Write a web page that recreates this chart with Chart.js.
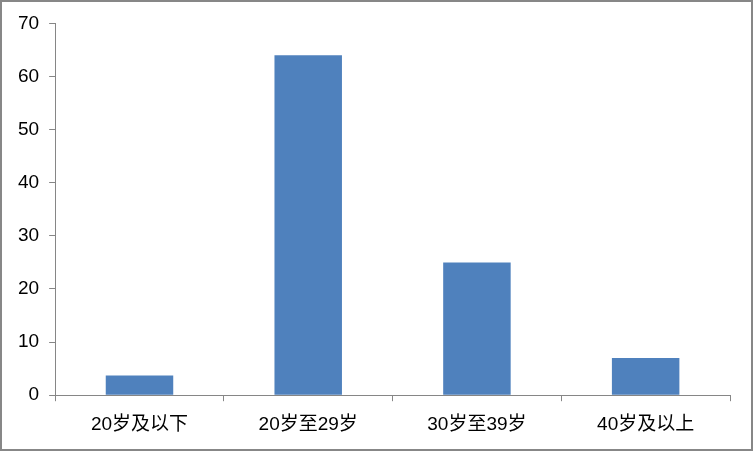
<!DOCTYPE html>
<html>
<head>
<meta charset="utf-8">
<script src="https://cdn.jsdelivr.net/npm/chart.js@4"></script>
<style>
  html, body { margin: 0; padding: 0; background: #fff; }
  #wrap { box-sizing: border-box; width: 753px; height: 451px; border: 2px solid #878787; position: relative; }
</style>
</head>
<body>
<div id="wrap"><canvas id="bar_chart"></canvas></div>
<script>
const ctx = document.querySelector('#bar_chart')

const ageGroups = ["20岁及以下", "20岁至29岁", "30岁至39岁", "40岁及以上"];
const counts = [3.7, 64, 25, 7];
const yTicks = [0, 10, 20, 30, 40, 50, 60, 70];

const data = {
    labels: ageGroups,
    datasets: [
        {
            data: counts,
            backgroundColor: '#4F81BD',
            barPercentage: 0.4,
            categoryPercentage: 1
        }
    ]
};

const options = {
    responsive: true,
    maintainAspectRatio: false,
    animation: false,
    layout: {
        padding: { top: 17, right: 21, bottom: 1, left: 6 }
    },
    plugins: {
        legend: false,
        tooltip: { enabled: false }
    },
    scales: {
        x: {
            offset: true,
            grid: {
                display: true,
                offset: true,
                drawOnChartArea: false,
                tickLength: 6,
                color: '#868686'
            },
            border: { color: '#868686' },
            ticks: {
                color: '#000',
                padding: 12,
                font: { family: '"Liberation Sans", "Noto Sans CJK SC"', size: 19 }
            }
        },
        y: {
            min: 0,
            max: 70,
            afterBuildTicks: axis => {
                axis.ticks = yTicks.map(v => ({ value: v }))
            },
            grid: {
                display: true,
                drawOnChartArea: false,
                tickLength: 6,
                color: '#868686'
            },
            border: { color: '#868686' },
            ticks: {
                color: '#000',
                padding: 10,
                font: { family: '"Liberation Sans", "Noto Sans CJK SC"', size: 19 }
            }
        }
    }
}

new Chart(ctx, {
    type: 'bar',
    data: data,
    options: options
})
</script>
</body>
</html>
